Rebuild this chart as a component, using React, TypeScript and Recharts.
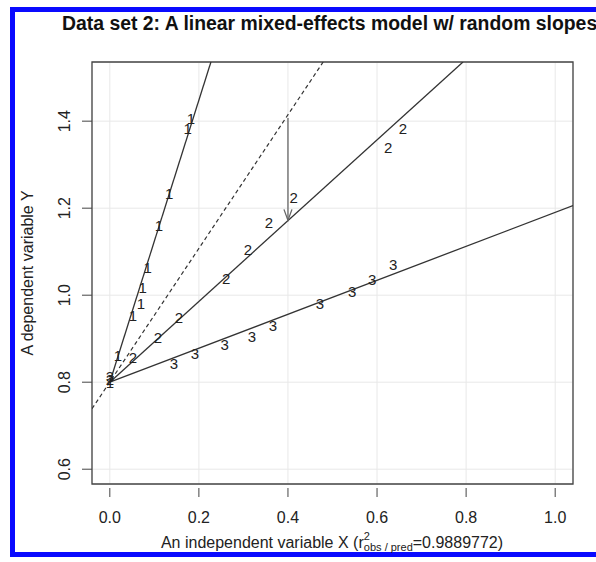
import { CartesianGrid, ComposedChart, Line, ReferenceArea, Scatter, XAxis, YAxis } from "recharts";

const X_DOMAIN = [-0.04, 1.04];
const Y_DOMAIN = [0.566, 1.536];
const X_TICKS = [0, 0.2, 0.4, 0.6, 0.8, 1];
const Y_TICKS = [0.6, 0.8, 1, 1.2, 1.4];

// observations, labelled by subject
const subject1 = [
  { x: 0.0, y: 0.8 },
  { x: 0.018, y: 0.862 },
  { x: 0.052, y: 0.954 },
  { x: 0.07, y: 0.982 },
  { x: 0.074, y: 1.018 },
  { x: 0.085, y: 1.064 },
  { x: 0.11, y: 1.161 },
  { x: 0.133, y: 1.234 },
  { x: 0.175, y: 1.384 },
  { x: 0.182, y: 1.407 },
];
const subject2 = [
  { x: 0.0, y: 0.806 },
  { x: 0.052, y: 0.857 },
  { x: 0.108, y: 0.903 },
  { x: 0.155, y: 0.949 },
  { x: 0.261, y: 1.039 },
  { x: 0.31, y: 1.106 },
  { x: 0.357, y: 1.166 },
  { x: 0.413, y: 1.225 },
  { x: 0.625, y: 1.34 },
  { x: 0.658, y: 1.382 },
];
const subject3 = [
  { x: 0.0, y: 0.812 },
  { x: 0.144, y: 0.844 },
  { x: 0.191, y: 0.867 },
  { x: 0.258, y: 0.887 },
  { x: 0.319, y: 0.906 },
  { x: 0.366, y: 0.931 },
  { x: 0.472, y: 0.982 },
  { x: 0.544, y: 1.009 },
  { x: 0.589, y: 1.037 },
  { x: 0.636, y: 1.071 },
];

// fitted lines (end points)
const fit1 = [
  { x: 0, y: 0.8 },
  { x: 0.227, y: 1.536 },
];
const fit2 = [
  { x: 0, y: 0.8 },
  { x: 0.793, y: 1.536 },
];
const fit3 = [
  { x: 0, y: 0.8 },
  { x: 1.04, y: 1.206 },
];
const fixedFit = [
  { x: -0.04, y: 0.739 },
  { x: 0.479, y: 1.536 },
];
const shrinkArrow = [
  { x: 0.4, y: 1.407 },
  { x: 0.4, y: 1.172 },
];

const FONT = '"Liberation Sans", Arial, Helvetica, sans-serif';
const INK = "#222";
const AXIS = "#444";

function digit(label: string) {
  return (p: any) => (
    <text
      x={p.cx}
      y={p.cy}
      textAnchor="middle"
      dominantBaseline="central"
      fontSize={15}
      fontFamily={FONT}
      fill={INK}
    >
      {label}
    </text>
  );
}

function XTick({ x, y, payload }: any) {
  return (
    <g>
      <line x1={x} x2={x} y1={y + 4} y2={y + 13} stroke={AXIS} />
      <text x={x} y={y + 33} textAnchor="middle" dominantBaseline="central" fontSize={16} fontFamily={FONT} fill={INK}>
        {Number(payload.value).toFixed(1)}
      </text>
    </g>
  );
}

function YTick({ x, y, payload }: any) {
  const tx = x - 27;
  return (
    <g>
      <line x1={x - 10} x2={x} y1={y} y2={y} stroke={AXIS} />
      <text
        x={tx}
        y={y}
        transform={`rotate(-90, ${tx}, ${y})`}
        textAnchor="middle"
        dominantBaseline="central"
        fontSize={16}
        fontFamily={FONT}
        fill={INK}
      >
        {Number(payload.value).toFixed(1)}
      </text>
    </g>
  );
}

function ArrowHead(p: any) {
  if (p.index !== 1) return <g key={`a${p.index}`} />;
  return (
    <path
      key="head"
      d={`M${p.cx - 4},${p.cy - 11} L${p.cx},${p.cy} L${p.cx + 4},${p.cy - 11}`}
      fill="none"
      stroke="#666"
      strokeWidth={1.3}
    />
  );
}

export default function App() {
  return (
    <div style={{ position: "absolute", left: 0, top: 0, width: 596, height: 562, overflow: "hidden", background: "#fff" }}>
      <div
        style={{
          position: "absolute",
          left: 10,
          top: 7,
          width: 620,
          height: 550,
          boxSizing: "border-box",
          border: "5px solid #0a0aff",
        }}
      />
      <div
        style={{
          position: "absolute",
          left: 62,
          top: 12,
          whiteSpace: "nowrap",
          fontFamily: FONT,
          fontWeight: "bold",
          fontSize: 19.4,
          color: "#111",
        }}
      >
        Data set 2: A linear mixed-effects model w/ random slopes
      </div>
      <div style={{ position: "absolute", left: 0, top: 0 }}>
        <ComposedChart width={596} height={562} margin={{ top: 62, right: 23, bottom: 28, left: 52 }}>
          <CartesianGrid stroke="#e8e8e8" />
          <XAxis
            type="number"
            dataKey="x"
            domain={X_DOMAIN}
            ticks={X_TICKS}
            allowDataOverflow
            height={50}
            tickSize={0}
            tickMargin={0}
            tickLine={false}
            axisLine={false}
            tick={<XTick />}
          />
          <YAxis
            type="number"
            dataKey="y"
            domain={Y_DOMAIN}
            ticks={Y_TICKS}
            allowDataOverflow
            width={40}
            tickSize={0}
            tickMargin={0}
            tickLine={false}
            axisLine={false}
            tick={<YTick />}
          />
          <ReferenceArea
            x1={X_DOMAIN[0]}
            x2={X_DOMAIN[1]}
            y1={Y_DOMAIN[0]}
            y2={Y_DOMAIN[1]}
            fill="none"
            fillOpacity={0}
            stroke={AXIS}
            strokeWidth={1.3}
          />
          <Line data={fixedFit} dataKey="y" stroke="#333" strokeWidth={1.2} strokeDasharray="4 3" dot={false} isAnimationActive={false} />
          <Line data={fit1} dataKey="y" stroke="#333" strokeWidth={1.3} dot={false} isAnimationActive={false} />
          <Line data={fit2} dataKey="y" stroke="#333" strokeWidth={1.3} dot={false} isAnimationActive={false} />
          <Line data={fit3} dataKey="y" stroke="#333" strokeWidth={1.3} dot={false} isAnimationActive={false} />
          <Line data={shrinkArrow} dataKey="y" stroke="#666" strokeWidth={1.3} dot={ArrowHead} isAnimationActive={false} />
          <Scatter data={subject3} shape={digit("3")} isAnimationActive={false} />
          <Scatter data={subject2} shape={digit("2")} isAnimationActive={false} />
          <Scatter data={subject1} shape={digit("1")} isAnimationActive={false} />
        </ComposedChart>
      </div>
      <svg width={596} height={562} style={{ position: "absolute", left: 0, top: 0, pointerEvents: "none" }}>
        <text
          x={27}
          y={273}
          transform="rotate(-90, 27, 273)"
          textAnchor="middle"
          dominantBaseline="central"
          fontSize={16}
          fontFamily={FONT}
          fill={INK}
        >
          A dependent variable Y
        </text>
        <text x={332} y={548} textAnchor="middle" fontSize={16} fontFamily={FONT} fill={INK}>
          An independent variable X (r
          <tspan fontSize={11} dy={-8}>2</tspan>
          <tspan fontSize={11} dx={-6} dy={11}>obs / pred</tspan>
          <tspan dy={-3}>=0.9889772)</tspan>
        </text>
      </svg>
    </div>
  );
}
